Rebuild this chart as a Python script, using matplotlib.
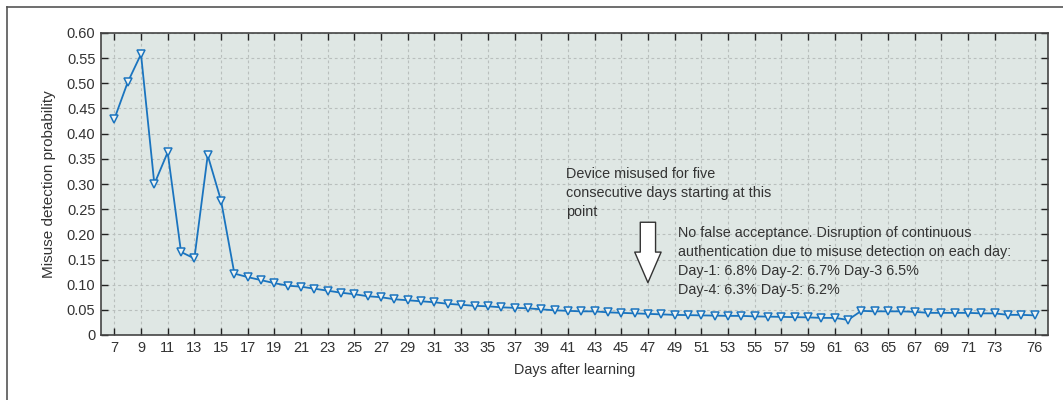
import matplotlib
matplotlib.use("Agg")
import matplotlib.pyplot as plt
from matplotlib.lines import Line2D

plt.rcParams['font.family'] = ['Liberation Sans', 'DejaVu Sans']

# Data
days = list(range(7, 77))
prob = [
    0.429, 0.502, 0.558, 0.300, 0.363, 0.165, 0.152, 0.357, 0.267, 0.122,   # 7-16
    0.115, 0.109, 0.103, 0.098, 0.096, 0.092, 0.088, 0.084, 0.081, 0.077,   # 17-26
    0.075, 0.071, 0.069, 0.067, 0.065, 0.062, 0.060, 0.058, 0.057, 0.055,   # 27-36
    0.054, 0.053, 0.051, 0.049, 0.048, 0.047, 0.047, 0.045, 0.044, 0.043,   # 37-46
    0.042, 0.041, 0.040, 0.0395, 0.039, 0.0385, 0.038, 0.038, 0.037, 0.0365, # 47-56
    0.036, 0.0355, 0.035, 0.034, 0.034, 0.030, 0.048, 0.047, 0.047, 0.047,  # 57-66
    0.046, 0.044, 0.044, 0.044, 0.044, 0.043, 0.043, 0.040, 0.040, 0.039,  # 67-76
]
xticks = list(range(7, 74, 2)) + [76]
yticks = [0, 0.05, 0.10, 0.15, 0.20, 0.25, 0.30, 0.35, 0.40, 0.45, 0.50, 0.55, 0.60]
ytick_labels = ['0'] + [f"{v:.2f}" for v in yticks[1:]]

note1 = "Device misused for five\nconsecutive days starting at this\npoint"
note2 = ("No false acceptance. Disruption of continuous\n"
         "authentication due to misuse detection on each day:\n"
         "Day-1: 6.8% Day-2: 6.7% Day-3 6.5%\n"
         "Day-4: 6.3% Day-5: 6.2%")
misuse_day = 47

TEXT = '#333333'
LINE = '#1a74bf'

fig = plt.figure(figsize=(10.63, 4.0), dpi=100)
ax = fig.add_axes([0.095, 0.1625, 0.891, 0.755])
ax.set_facecolor('#dfe7e4')

ax.plot(days, prob, color=LINE, linewidth=1.3, marker='v', markersize=5.8,
        markerfacecolor='#eef3f2', markeredgecolor=LINE, markeredgewidth=1.1)

ax.set_xlim(6, 77)
ax.set_ylim(0, 0.6)
ax.set_xticks(xticks)
ax.set_yticks(yticks)
ax.set_yticklabels(ytick_labels)
ax.tick_params(direction='in', top=True, right=True, length=5, width=1.0,
               labelsize=10.5, colors='#222222', labelcolor=TEXT, pad=4)
ax.grid(True, color='#b9bfbd', linestyle=(0, (2.5, 2.5)), linewidth=0.8)
ax.set_axisbelow(True)
for s in ax.spines.values():
    s.set_color('#444444')
    s.set_linewidth(1.2)

ax.set_xlabel("Days after learning", fontsize=10.4, color=TEXT, labelpad=6)
ax.set_ylabel("Misuse detection probability", fontsize=11, color=TEXT, labelpad=8)

ax.text(0.491, 0.557, note1, transform=ax.transAxes, fontsize=10.4, color=TEXT,
        va='top', ha='left', linespacing=1.45)
ax.text(0.609, 0.362, note2, transform=ax.transAxes, fontsize=10.4, color=TEXT,
        va='top', ha='left', linespacing=1.45)

ax.annotate('', xy=(misuse_day, 0.104), xytext=(misuse_day, 0.224),
            arrowprops=dict(arrowstyle='simple,head_length=2.2,head_width=1.9,tail_width=1.1',
                            mutation_scale=10, fc='white', ec='#333333', lw=1.0,
                            shrinkA=0, shrinkB=0))

# outer frame (left and top edges visible)
fig.add_artist(Line2D([0.0066, 0.0066], [0, 0.9825], transform=fig.transFigure,
                      color='#555555', linewidth=1.2))
fig.add_artist(Line2D([0.0066, 1.0], [0.9825, 0.9825], transform=fig.transFigure,
                      color='#555555', linewidth=1.2))

fig.savefig('out.png', dpi=100)
